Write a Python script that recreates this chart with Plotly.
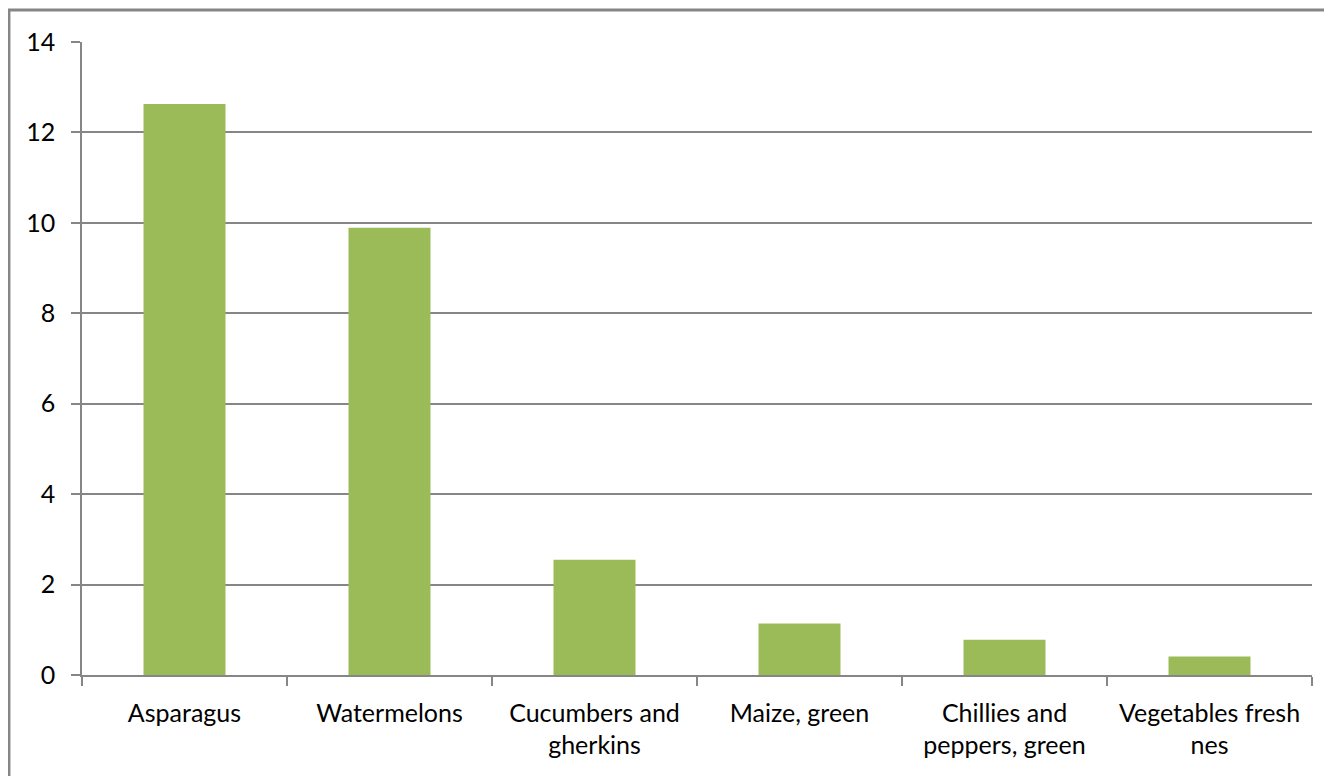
import plotly.graph_objects as go

categories = ["Asparagus", "Watermelons", "Cucumbers and<br>gherkins", "Maize, green",
              "Chillies and<br>peppers, green", "Vegetables fresh<br>nes"]
values = [12.63, 9.89, 2.55, 1.14, 0.78, 0.41]
y_ticks = [0, 2, 4, 6, 8, 10, 12, 14]

grid = "#868686"
fnt = dict(family="Lato, 'Open Sans', sans-serif", size=25, color="#000000")

fig = go.Figure(go.Bar(x=categories, y=values, marker=dict(color="#9BBB59", line=dict(width=0))))

fig.update_layout(
    width=1324, height=768,
    margin=dict(l=74, r=20, t=34, b=101),
    paper_bgcolor="white", plot_bgcolor="white",
    bargap=0.6, showlegend=False, font=fnt,
)
fig.update_xaxes(
    showline=True, linecolor=grid, linewidth=1.5,
    ticks="outside", tickson="boundaries", ticklen=9, tickcolor=grid, tickwidth=1.5,
    showgrid=False, tickfont=fnt, ticklabelstandoff=15,
)
fig.update_yaxes(
    range=[0, 14], tickvals=y_ticks, showline=True, linecolor=grid, linewidth=1.5,
    ticks="outside", ticklen=9, tickcolor=grid, tickwidth=1.5,
    showgrid=True, gridcolor=grid, gridwidth=1.5, zeroline=False,
    tickfont=fnt, ticklabelstandoff=11,
)
fig.add_shape(type="path", xref="paper", yref="paper",
              path="M -0.0594,-0.5 L -0.0594,1.0506 L 1.5,1.0506",
              line=dict(color=grid, width=3), layer="below")
fig.write_html("out.html")
